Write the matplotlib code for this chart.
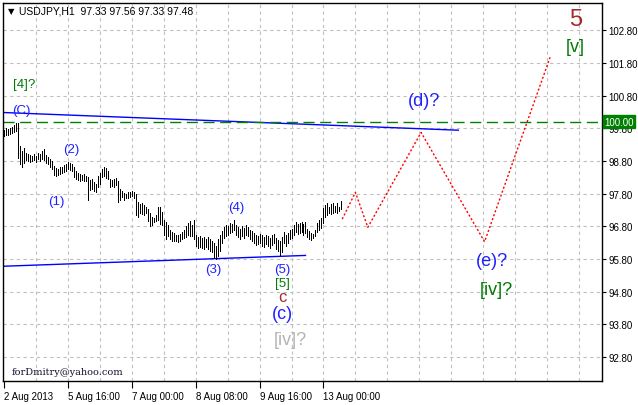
import numpy as np
import matplotlib
matplotlib.use("Agg")
import matplotlib.pyplot as plt

plt.rcParams.update({"font.family": "Liberation Sans", "font.size": 7})

# hourly bars, USDJPY H1, 2 Aug 2013 .. 13 Aug 2013
highs = [99.75, 99.80, 99.78, 99.82, 99.85, 99.90, 99.96, 99.95, 99.25, 99.10,
         99.20, 99.05, 99.00, 98.98, 98.95, 99.02, 98.96, 99.05, 99.00, 99.10,
         99.18, 98.98, 98.92, 98.85, 98.80, 98.65, 98.58, 98.55, 98.60, 98.62,
         98.68, 98.72, 98.78, 98.74, 98.70, 98.62, 98.48, 98.42, 98.40, 98.38,
         98.40, 98.35, 98.30, 98.22, 98.24, 98.15, 98.10, 98.35, 98.42, 98.55,
         98.62, 98.58, 98.48, 98.25, 98.22, 98.24, 98.28, 98.18, 97.95, 97.88,
         97.82, 97.80, 97.84, 97.86, 97.88, 97.85, 97.78, 97.55, 97.48, 97.52,
         97.45, 97.38, 97.32, 97.20, 97.10, 97.05, 97.15, 97.38, 97.40, 97.25,
         97.00, 96.92, 96.85, 96.70, 96.64, 96.60, 96.55, 96.52, 96.58, 96.62,
         96.68, 96.80, 96.90, 96.95, 96.85, 96.98, 96.55, 96.48, 96.50, 96.45,
         96.48, 96.42, 96.46, 96.40, 96.35, 96.30, 96.20, 96.42, 96.55, 96.65,
         96.78, 96.85, 96.80, 96.90, 96.88, 96.99, 96.85, 96.78, 96.72, 96.80,
         96.75, 96.85, 96.78, 96.70, 96.65, 96.60, 96.55, 96.50, 96.58, 96.52,
         96.48, 96.55, 96.50, 96.45, 96.52, 96.58, 96.45, 96.38, 96.35, 96.48,
         96.62, 96.55, 96.60, 96.70, 96.72, 96.85, 96.92, 96.88, 96.90, 96.94,
         96.86, 96.92, 96.72, 96.65, 96.60, 96.58, 96.70, 96.90, 96.98, 97.05,
         97.35, 97.45, 97.50, 97.40, 97.48, 97.52, 97.42, 97.50, 97.38, 97.56]
lows = [99.55, 99.60, 99.58, 99.62, 99.64, 99.70, 99.72, 98.88, 98.70, 98.62,
        98.75, 98.82, 98.80, 98.78, 98.80, 98.82, 98.78, 98.85, 98.80, 98.86,
        98.84, 98.75, 98.70, 98.62, 98.55, 98.38, 98.34, 98.36, 98.40, 98.42,
        98.45, 98.50, 98.55, 98.52, 98.48, 98.30, 98.24, 98.22, 98.20, 98.22,
        98.20, 98.18, 97.62, 97.90, 97.95, 97.88, 97.85, 98.00, 98.10, 98.30,
        98.35, 98.28, 98.24, 98.00, 98.02, 98.00, 98.05, 97.55, 97.62, 97.70,
        97.62, 97.66, 97.68, 97.70, 97.72, 97.66, 97.15, 97.10, 97.22, 97.18,
        97.14, 97.20, 96.95, 96.82, 96.85, 96.92, 96.95, 97.00, 96.88, 96.85,
        96.55, 96.42, 96.50, 96.40, 96.36, 96.35, 96.34, 96.32, 96.36, 96.40,
        96.45, 96.48, 96.55, 96.50, 96.50, 96.40, 96.20, 96.15, 96.18, 96.14,
        96.12, 96.16, 96.10, 96.05, 96.00, 95.82, 95.80, 95.90, 96.05, 96.30,
        96.45, 96.50, 96.55, 96.60, 96.62, 96.70, 96.55, 96.48, 96.42, 96.50,
        96.45, 96.55, 96.50, 96.42, 96.35, 96.28, 96.22, 96.25, 96.30, 96.20,
        96.18, 96.25, 96.20, 96.15, 96.22, 96.28, 96.12, 96.05, 95.92, 96.02,
        96.30, 96.20, 96.28, 96.40, 96.45, 96.55, 96.62, 96.58, 96.60, 96.62,
        96.55, 96.60, 96.48, 96.42, 96.38, 96.45, 96.50, 96.62, 96.70, 96.75,
        96.90, 97.10, 97.15, 97.20, 97.18, 97.22, 97.25, 97.22, 97.28, 97.33]
bars = np.arange(len(highs))

# forecast path (bar index, price)
fc_x = [169.4, 176, 182.2, 208.9, 240.7, 273.5]
fc_y = [97.02, 97.84, 96.77, 99.67, 96.33, 101.97]

# triangle lines
up_x, up_y = [0, 227.5], [100.28, 99.74]
lo_x, lo_y = [0, 151], [95.58, 95.91]
level = 100.00

price_ticks = [92.80, 93.80, 94.80, 95.80, 96.80, 97.80, 98.80, 99.80, 100.80, 101.80, 102.80]
date_pos = [0, 32, 64, 96, 128, 160]
date_labels = ["2 Aug 2013", "5 Aug 16:00", "7 Aug 00:00", "8 Aug 08:00", "9 Aug 16:00", "13 Aug 00:00"]

fig = plt.figure(figsize=(6.38, 4.06), dpi=100)
ax = fig.add_axes([3/638, 24/406, 599/638, 378/406])
ax.set_xlim(-0.5, 299.5)
ax.set_ylim(92.07, 103.63)

# grid
for g in range(16, 300, 16):
    ax.axvline(g, color="#c0c0c0", lw=0.8, ls=(0, (3, 3)), zorder=0)
for p in price_ticks:
    ax.axhline(p, color="#c0c0c0", lw=0.8, ls=(0, (3, 3)), zorder=0)

ax.vlines(bars, lows, highs, color="black", lw=0.55, antialiased=False, zorder=3)

ax.plot(up_x, up_y, color="blue", lw=1, zorder=2)
ax.plot(lo_x, lo_y, color="blue", lw=1, zorder=2)
ax.axhline(level, color="green", lw=1, ls=(0, (8, 4)), zorder=2)
ax.plot(fc_x, fc_y, color="red", lw=1, ls=(0, (1.5, 1.5)), zorder=2)

ax.yaxis.tick_right()
ax.set_yticks(price_ticks)
ax.set_yticklabels(["%.2f" % p for p in price_ticks])
ax.tick_params(axis="y", direction="out", length=3, width=0.8, pad=1.5, labelsize=7)
ax.set_xticks(date_pos)
ax.set_xticklabels(date_labels, ha="left")
ax.tick_params(axis="x", direction="out", length=5, width=0.8, pad=2, labelsize=7)
for s in ax.spines.values():
    s.set_linewidth(1)

# current level marker on the price scale
ax.text(1.004, (level - 92.07) / (103.63 - 92.07), "100.00", transform=ax.transAxes,
        color="white", fontsize=7, va="center", ha="left",
        bbox=dict(boxstyle="square,pad=0.15", fc="green", ec="green"), zorder=5,
        clip_on=False)

# wave labels
blue = "#2020ff"
green = "#007a00"
brown = "#a52a2a"
ax.text(10, 101.15, "[4]?", color=green, fontsize=9.5, ha="center", va="center")
ax.text(8.5, 100.36, "(C)", color=blue, fontsize=9.5, ha="center", va="center")
ax.text(33.5, 99.16, "(2)", color=blue, fontsize=9.5, ha="center", va="center")
ax.text(26, 97.57, "(1)", color=blue, fontsize=9.5, ha="center", va="center")
ax.text(116.5, 97.39, "(4)", color=blue, fontsize=9.5, ha="center", va="center")
ax.text(105, 95.49, "(3)", color=blue, fontsize=9.5, ha="center", va="center")
ax.text(139.5, 95.49, "(5)", color=blue, fontsize=9.5, ha="center", va="center")
ax.text(139.5, 95.06, "[5]", color=green, fontsize=9.5, ha="center", va="center")
ax.text(139.5, 94.66, "c", color=brown, fontsize=12, ha="center", va="center")
ax.text(139.5, 94.14, "(c)", color=blue, fontsize=13, ha="center", va="center")
ax.text(143.5, 93.35, "[iv]?", color="#b4b4b4", fontsize=13, ha="center", va="center")
ax.text(210.5, 100.66, "(d)?", color=blue, fontsize=13, ha="center", va="center")
ax.text(244.5, 95.74, "(e)?", color=blue, fontsize=13, ha="center", va="center")
ax.text(246.5, 94.86, "[iv]?", color=green, fontsize=13, ha="center", va="center")
ax.text(286.5, 103.14, "5", color=brown, fontsize=17, ha="center", va="center")
ax.text(286, 102.31, "[v]", color=green, fontsize=13, ha="center", va="center")

# header and signature
ax.text(0.009, 0.981, "\u25bc", transform=ax.transAxes, fontsize=6, family="DejaVu Sans",
        va="center", ha="left")
ax.text(0.027, 0.981, "USDJPY,H1  97.33 97.56 97.33 97.48", transform=ax.transAxes,
        fontsize=7.5, va="center", ha="left")
ax.text(0.015, 0.024, "forDmitry@yahoo.com", transform=ax.transAxes, fontsize=7,
        family="DejaVu Serif", va="center", ha="left", color="#101030")

fig.savefig("out.png", dpi=100)
